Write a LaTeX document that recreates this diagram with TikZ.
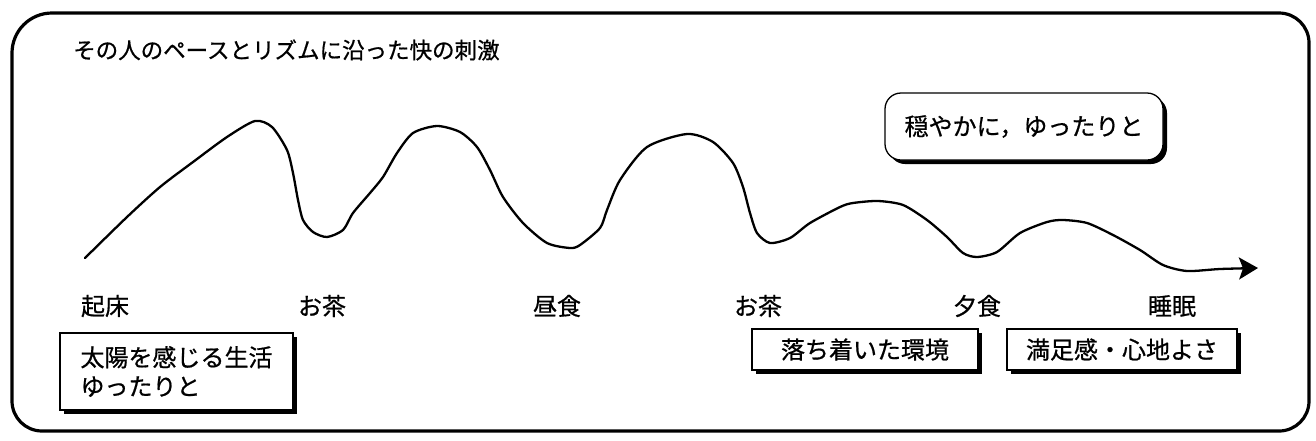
\documentclass[tikz,border=0pt]{standalone}
\usepackage{fontspec}
\setmainfont{Noto Sans CJK JP}[FakeBold=0.7]
\usetikzlibrary{arrows.meta,shadows}
\tikzset{
  txt/.style={font=\fontsize{24pt}{29pt}\selectfont, inner sep=0pt},
  tag/.style={txt, anchor=center},
  boxsh/.style={draw=black, line width=1.3pt, fill=white, rectangle,
    general shadow={shadow xshift=4pt, shadow yshift=-4pt, fill=black}},
  frameline/.style={line width=3.2pt},
  wave/.style={line width=2.3pt, line join=round, line cap=round}
}
\begin{document}
\begin{tikzpicture}[x=1pt,y=-1pt]
\useasboundingbox (0,0) rectangle (1316,440);
% outer frame
\draw[frameline] (12,240) [rounded corners=40pt] -- (12,13) [rounded corners=30pt] -- (1309,13) -- (1309,431) -- (12,431) -- cycle;
% title
\node[txt, font=\fontsize{22.5pt}{27pt}\selectfont, anchor=west] (title) at (73,50) {その人のペースとリズムに沿った快の刺激};
% rhythm wave
\draw[wave, -{Stealth[length=19pt, width=22pt, inset=4pt]}] plot[smooth, tension=0.45] coordinates {
 (85,258) (127,217) (160,187) (193,162) (227,137) (255,121) (272,127) (287,150)
 (293,173) (298,200) (303,220) (313,232) (327,237) (343,230) (353,213) (370,193)
 (383,177) (397,153) (413,133) (437,126) (460,132) (477,147) (490,170) (503,197)
 (523,223) (547,243) (570,248) (580,245) (600,228) (607,210) (620,180) (647,147)
 (687,134) (713,142) (733,163) (743,187) (750,213) (757,233) (770,243) (790,238)
 (810,223) (840,207) (853,203) (878,201) (903,205) (927,220) (947,237) (963,253)
 (977,257) (997,252) (1020,233) (1047,222) (1063,220) (1087,223) (1113,235)
 (1140,250) (1163,265) (1187,271) (1220,269) (1258,268)};
% time labels
\node[tag] (wake)   at (105,306)  {起床};
\node[tag] (tea1)   at (322,306)  {お茶};
\node[tag] (lunch)  at (557,306)  {昼食};
\node[tag] (tea2)   at (758,306)  {お茶};
\node[tag] (dinner) at (977,306)  {夕食};
\node[tag] (sleep)  at (1172,306) {睡眠};
% boxes
\node[boxsh, txt, align=left, minimum width=233pt, minimum height=77pt] (sun) at (176.5,371.5)
  {太陽を感じる生活\\ゆったりと};
\node[boxsh, txt, minimum width=226pt, minimum height=41pt] (calm) at (865,349.5) {落ち着いた環境};
\node[boxsh, txt, minimum width=230pt, minimum height=41pt] (satis) at (1122,349.5) {満足感・心地よさ};
\node[boxsh, txt, rounded corners=16pt, minimum width=278pt, minimum height=67pt] (gentle) at (1024,126.5) {穏やかに，ゆったりと};
\end{tikzpicture}
\end{document}
